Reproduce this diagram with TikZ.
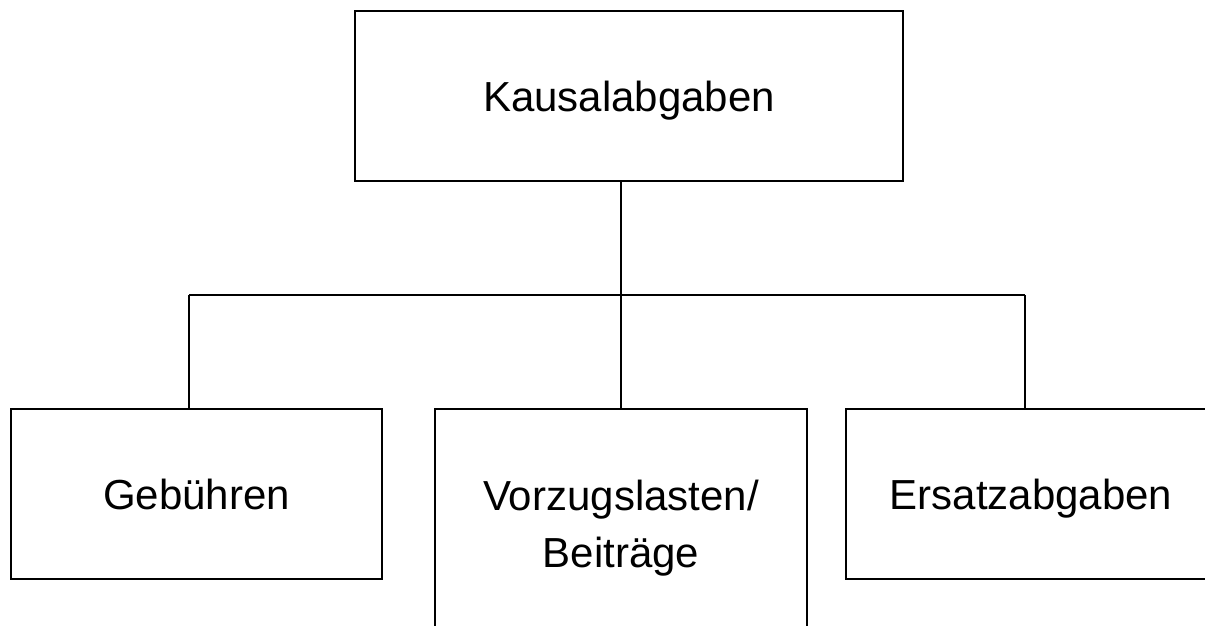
\documentclass[tikz,border=0pt]{standalone}
\usepackage{fontspec}
\setmainfont{Liberation Sans}
\begin{document}
\begin{tikzpicture}[x=1pt,y=-1pt,
  lbl/.style={font=\fontsize{42pt}{57pt}\selectfont},
  box/.style={draw=black, line width=2pt, inner sep=0pt, lbl, text height=30.1pt, text depth=0pt},
  conn/.style={draw=black, line width=2pt}]
\useasboundingbox (0,0) rectangle (1205,626);
\clip (0,0) rectangle (1205,626);
\node[box, minimum width=548pt, minimum height=170pt] (top) at (629,96) {Kausalabgaben};
\node[box, minimum width=371pt, minimum height=170pt] (left) at (196.5,494) {Gebühren};
\node[box, minimum width=372pt, minimum height=226pt] (mid) at (621,522) {};
\node[lbl, align=center, inner sep=0pt] (midtext) at (621,528) {Vorzugslasten/\\Beiträge};
\node[box, minimum width=370pt, minimum height=170pt] (right) at (1031,494) {Ersatzabgaben};
\coordinate (bl) at (189,295);
\coordinate (br) at (1025,295);
\draw[conn] (top.south -| mid.north) -- (mid.north);
\draw[conn] (bl) -- (br);
\draw[conn] (bl) -- (bl |- left.north);
\draw[conn] (br) -- (br |- right.north);
\end{tikzpicture}
\end{document}
